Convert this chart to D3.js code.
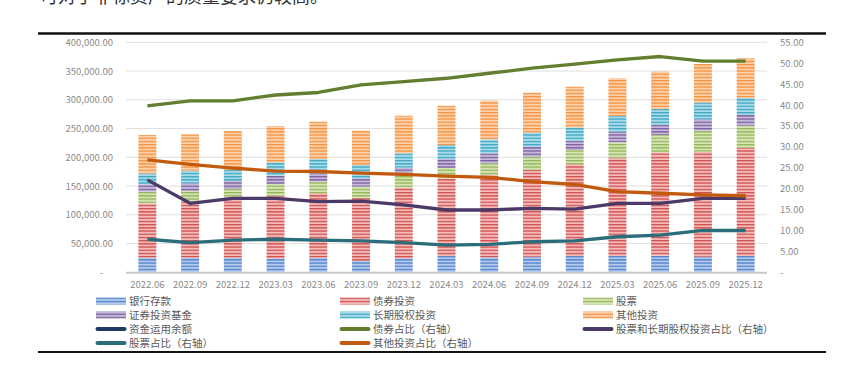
<!DOCTYPE html>
<html><head><meta charset="utf-8">
<script src="https://cdn.jsdelivr.net/npm/d3@7/dist/d3.min.js"></script>
<style>
html,body{margin:0;padding:0;background:#fff;}
svg{display:block;font-family:"Noto Sans CJK SC","Noto Sans",sans-serif;}
</style></head>
<body>
<script>
const categories = ["2022.06","2022.09","2022.12","2023.03","2023.06","2023.09","2023.12","2024.03","2024.06","2024.09","2024.12","2025.03","2025.06","2025.09","2025.12"];
// stacked bar series (left axis)
const bankDeposit = [25500,25500,25500,24300,25400,19700,24300,28300,26000,27100,28300,28300,28900,27100,28300];
const bondInvest  = [94500,97300,106000,108900,112000,110000,122900,134000,143200,150800,159500,171000,179800,182700,188400];
const stocks      = [20300,18600,13400,19800,20200,19200,20300,19100,20400,23100,24900,26800,30100,36500,38300];
const funds       = [12700,13400,13900,15000,14400,14600,14500,15600,17400,17400,15600,18400,17400,19700,18600];
const longEquity  = [19000,21900,19100,23300,25000,23100,25000,24400,24300,24400,23900,27300,27800,29000,30000];
const otherInvest = [66800,63300,67800,63100,65000,59700,65300,68300,67200,69600,70600,65600,64900,67300,68600];
// line series (right axis, %)
const bondShare        = [39.8,41.0,41.0,42.4,43.0,44.8,45.6,46.4,47.6,48.8,49.8,50.8,51.6,50.5,50.5];
const stockEquityShare = [22.1,16.5,17.7,17.7,16.9,17.0,16.1,14.9,14.9,15.3,15.1,16.5,16.5,17.7,17.7];
const stockShare       = [7.9,7.1,7.7,7.9,7.7,7.5,7.1,6.5,6.7,7.3,7.5,8.5,8.9,10.0,10.0];
const otherShare       = [26.9,25.8,24.9,24.2,24.1,23.7,23.4,23.0,22.7,21.7,21.0,19.3,18.9,18.5,18.3];
const leftTicks  = [0,50000,100000,150000,200000,250000,300000,350000,400000];
const rightTicks = [0,5,10,15,20,25,30,35,40,45,50,55];
const barNames  = ["银行存款","债券投资","股票","证券投资基金","长期股权投资","其他投资"];
const lineNames = ["资金运用余额","债券占比（右轴）","股票和长期股权投资占比（右轴）","股票占比（右轴）","其他投资占比（右轴）"];
const headText = "可对于非标资产的质量要求仍较高。";

const W = 849, H = 368;
const svg = d3.select("body").append("svg").attr("width", W).attr("height", H);
const defs = svg.append("defs");

const barColors = [
  {dark:"#4f81c9", light:"#b4cbee"},
  {dark:"#cf4f4c", light:"#f3bcbb"},
  {dark:"#93b45a", light:"#d6e5b4"},
  {dark:"#7a5f9e", light:"#c7b9da"},
  {dark:"#3ea7c2", light:"#a9dbe8"},
  {dark:"#f5923f", light:"#fcd0aa"}
];
barColors.forEach((c,i)=>{
  const p = defs.append("pattern").attr("id","pat"+i).attr("patternUnits","userSpaceOnUse")
    .attr("width",6).attr("height",3.2);
  p.append("rect").attr("width",6).attr("height",3.2).attr("fill",c.light);
  p.append("rect").attr("y",0).attr("width",6).attr("height",1.3).attr("fill",c.dark);
});
const lineColors = ["#203864","#627f2f","#4b3a68","#2b6d7b","#c25a0e"];

// heading fragment and rules
svg.append("text").attr("x",40).attr("y",3).attr("font-size",18).attr("fill","#333").text(headText);
svg.append("line").attr("x1",38).attr("x2",826).attr("y1",33.5).attr("y2",33.5).attr("stroke","#111").attr("stroke-width",2.5);
svg.append("line").attr("x1",38).attr("x2",826).attr("y1",352).attr("y2",352).attr("stroke","#111").attr("stroke-width",2);

const x = d3.scaleBand().domain(categories).range([126,767]).paddingInner(0.58).paddingOuter(0.29);
const yL = d3.scaleLinear().domain([0,400000]).range([272.3,42.3]);
const yR = d3.scaleLinear().domain([0,55]).range([272.3,42.3]);

// grid
svg.append("g").selectAll("line").data(leftTicks.slice(1)).join("line")
  .attr("x1",126).attr("x2",767).attr("y1",d=>yL(d)).attr("y2",d=>yL(d))
  .attr("stroke","#e0e0e0").attr("stroke-width",1);

// left axis
const fmtL = d => d===0 ? "-" : d3.format(",.2f")(d);
const axL = svg.append("g").attr("transform","translate(126,0)")
  .call(d3.axisLeft(yL).tickValues(leftTicks).tickFormat(fmtL).tickSize(0).tickPadding(13));
axL.select(".domain").remove();
axL.selectAll("text").attr("font-size",9.5).attr("fill","#8a8a8a").attr("font-family","'Noto Sans CJK SC',sans-serif");
axL.selectAll("text").filter(d=>d===0).attr("dx",-10);
// right axis
const fmtR = d => d===0 ? "-" : d3.format(".2f")(d);
const axR = svg.append("g").attr("transform","translate(767,0)")
  .call(d3.axisRight(yR).tickValues(rightTicks).tickFormat(fmtR).tickSize(0).tickPadding(13));
axR.select(".domain").remove();
axR.selectAll("text").attr("font-size",9.5).attr("fill","#8a8a8a").attr("font-family","'Noto Sans CJK SC',sans-serif");

// stacked bars
const series = [bankDeposit,bondInvest,stocks,funds,longEquity,otherInvest];
const rows = categories.map((c,i)=>{const o={cat:c}; series.forEach((s,k)=>o["s"+k]=s[i]); return o;});
const stack = d3.stack().keys(series.map((s,k)=>"s"+k))(rows);
svg.append("g").selectAll("g").data(stack).join("g")
  .attr("fill",(d,i)=>`url(#pat${i})`)
  .selectAll("rect").data(d=>d).join("rect")
  .attr("x",d=>x(d.data.cat)).attr("width",x.bandwidth())
  .attr("y",d=>yL(d[1])).attr("height",d=>yL(d[0])-yL(d[1]));

// baseline axis
svg.append("line").attr("x1",126).attr("x2",767).attr("y1",272.8).attr("y2",272.8).attr("stroke","#c8c8c8").attr("stroke-width",2);

// x labels
svg.append("g").selectAll("text").data(categories).join("text")
  .attr("x",d=>x(d)+x.bandwidth()/2).attr("y",288).attr("text-anchor","middle")
  .attr("font-size",9.5).attr("fill","#8a8a8a").text(d=>d);

// lines
const lineData = [null,bondShare,stockEquityShare,stockShare,otherShare];
const lg = d3.line().x((d,i)=>x(categories[i])+x.bandwidth()/2).y(d=>yR(d));
lineData.forEach((s,k)=>{
  if(!s) return;
  svg.append("path").datum(s).attr("d",lg).attr("fill","none")
    .attr("stroke",lineColors[k]).attr("stroke-width",3.3).attr("stroke-linejoin","round");
});

// legend
const legendItems = [];
barNames.forEach((n,i)=>legendItems.push({name:n,type:"bar",idx:i}));
lineNames.forEach((n,i)=>legendItems.push({name:n,type:"line",idx:i}));
const colX = [96,340,583], rowY = [301,315,329,343];
const lgG = svg.append("g");
legendItems.forEach((it,j)=>{
  const cx = colX[j%3], cy = rowY[Math.floor(j/3)];
  if(it.type==="bar"){
    lgG.append("rect").attr("x",cx).attr("y",cy-3.5).attr("width",30).attr("height",7).attr("fill",`url(#pat${it.idx})`);
  } else {
    lgG.append("line").attr("x1",cx+1.5).attr("x2",cx+28.5).attr("y1",cy).attr("y2",cy)
      .attr("stroke",lineColors[it.idx]).attr("stroke-width",4).attr("stroke-linecap","round");
  }
  lgG.append("text").attr("x",cx+33).attr("y",cy).attr("dy","0.35em")
    .attr("font-size",10.5).attr("fill","#595959").text(it.name);
});
</script>
</body></html>
